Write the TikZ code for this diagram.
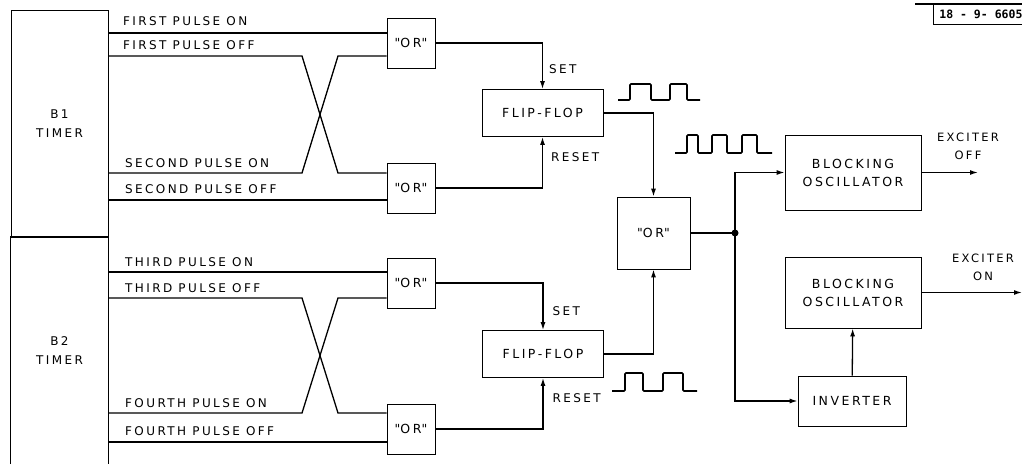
\documentclass[tikz,border=0pt]{standalone}
\usepackage{fontspec}
\setmainfont{DejaVu Sans}[LetterSpace=20]
\newfontfamily\tagfont{DejaVu Sans Mono}
\usetikzlibrary{arrows.meta, positioning}
\newcommand{\orq}{\textquotedbl OR\textquotedbl}
\tikzstyle{block} = [rectangle, draw=black, line width=0.8pt, align=center, inner sep=1pt, font=\fontsize{12.5}{18}\selectfont]
\tikzstyle{orgate} = [block, minimum width=48pt, minimum height=50pt]
\tikzstyle{ffbox} = [block, minimum width=121pt, minimum height=47pt]
\tikzstyle{timer} = [rectangle, align=center, minimum width=97pt, minimum height=227pt, inner sep=0pt, font=\fontsize{12}{19}\selectfont]
\tikzstyle{sig} = [anchor=west, inner sep=0pt, font=\fontsize{12}{14}\selectfont]
\tikzstyle{wire} = [line width=1.3pt]
\tikzstyle{arrow} = [line width=1.3pt, -{Latex[length=8pt,width=5pt]}]
\tikzstyle{pulse} = [line width=1.6pt, rounded corners=1pt]

\begin{document}
\begin{tikzpicture}[x=1pt, y=-1pt]
  \useasboundingbox (0,0) rectangle (1022,464);

  % timers
  \node[timer, draw, line width=0.8pt] (t1) at (59.5,123.5) {B1\\TIMER};
  \node[timer] (t2) at (59.5,350.5) {B2\\TIMER};
  \draw[line width=0.8pt] (t2.south west) -- (t2.north west) -- (t2.north east) -- (t2.south east);

  % or gates
  \node[orgate] (or1) at (411,43) {\orq};
  \node[orgate] (or2) at (411,188) {\orq};
  \node[orgate] (or3) at (411,283) {\orq};
  \node[orgate] (or4) at (411,429) {\orq};

  % pulse lines B1
  \draw[wire] (t1.east |- 0,33) -- (or1.west |- 0,33);
  \draw[wire] (t1.east |- 0,56) -- (302,56) -- (338,173) -- (or2.west |- 0,173);
  \draw[wire] (t1.east |- 0,173) -- (302,173) -- (338,56) -- (or1.west |- 0,56);
  \draw[wire] (t1.east |- 0,200) -- (or2.west |- 0,200);
  \node[sig] (l1) at (123,21) {FIRST PULSE ON};
  \node[sig] (l2) at (123,45) {FIRST PULSE OFF};
  \node[sig] (l3) at (125,163) {SECOND PULSE ON};
  \node[sig] (l4) at (125,189) {SECOND PULSE OFF};

  % pulse lines B2
  \draw[wire] (t2.east |- 0,272) -- (or3.west |- 0,272);
  \draw[wire] (t2.east |- 0,298) -- (302,298) -- (338,413) -- (or4.west |- 0,413);
  \draw[wire] (t2.east |- 0,413) -- (302,413) -- (338,298) -- (or3.west |- 0,298);
  \draw[wire] (t2.east |- 0,442) -- (or4.west |- 0,442);
  \node[sig] (l5) at (125,262) {THIRD PULSE ON};
  \node[sig] (l6) at (125,288) {THIRD PULSE OFF};
  \node[sig] (l7) at (125,403) {FOURTH PULSE ON};
  \node[sig] (l8) at (125,431) {FOURTH PULSE OFF};

  % flip-flops
  \node[ffbox] (ff1) at (542.5,113) {FLIP-FLOP};
  \node[ffbox] (ff2) at (543,354) {FLIP-FLOP};
  \draw[arrow] (or1.east) -| (ff1.north) node[sig, pos=0.78, xshift=6pt] {SET};
  \draw[arrow] (or2.east) -| (ff1.south) node[sig, pos=0.8, xshift=8pt] {RESET};
  \draw[arrow] (or3.east) -| (ff2.north) node[sig, pos=0.8, xshift=9pt] {SET};
  \draw[arrow] (or4.east) -| (ff2.south) node[sig, pos=0.8, xshift=9pt] {RESET};

  % main or
  \node[block, minimum width=73pt, minimum height=72pt] (orm) at (653.5,233) {\orq};
  \draw[arrow] (ff1.east) -| (orm.north);
  \draw[arrow] (ff2.east) -| (orm.south);
  \coordinate (j) at (735,233);
  \draw[wire] (orm.east) -- (j);
  \fill (j) circle (3.5pt);

  % output stage
  \node[block, minimum width=136pt, minimum height=75pt] (bo1) at (853,172.5) {BLOCKING\\OSCILLATOR};
  \node[block, minimum width=136pt, minimum height=71pt] (bo2) at (853,292.5) {BLOCKING\\OSCILLATOR};
  \node[block, minimum width=108pt, minimum height=50pt] (inv) at (852,401) {INVERTER};
  \draw[arrow] (j) |- (bo1.west);
  \draw[arrow] (j) |- (inv.west);
  \draw[arrow] (inv) -- (bo2);
  \coordinate (xoff) at (978,172.5);
  \coordinate (xon) at (1022,292.5);
  \draw[arrow] (bo1.east) -- (xoff);
  \draw[arrow] (bo2.east) -- (xon);
  \node[align=center, font=\fontsize{11.5}{18}\selectfont] (e1) at (968,146) {EXCITER\\OFF};
  \node[align=center, font=\fontsize{11.5}{18}\selectfont] (e2) at (983,267) {EXCITER\\ON};

  % pulse trains
  \draw[pulse] (618,100) -- (630,100) -- (630,84) -- (651,84) -- (651,100) -- (670,100) -- (670,84) -- (687,84) -- (687,100) -- (700,100);
  \draw[pulse] (675,153) -- (687,153) -- (687,135) -- (698,135) -- (698,153) -- (712,153) -- (712,135) -- (727,135) -- (727,153) -- (742,153) -- (742,135) -- (757,135) -- (757,153) -- (772,153);
  \draw[pulse] (612,391) -- (625,391) -- (625,373) -- (643,373) -- (643,391) -- (663,391) -- (663,373) -- (683,373) -- (683,391) -- (697,391);

  % drawing number
  \node[draw, line width=0.8pt, inner sep=2pt, anchor=north west, minimum height=20pt, minimum width=95pt, font=\tagfont\bfseries\fontsize{11.5}{12}\selectfont] (tag) at (933,4) {18 - 9- 6605};
  \draw[line width=1.2pt] ([xshift=-18pt]tag.north west) -- (tag.north east);
\end{tikzpicture}
\end{document}
